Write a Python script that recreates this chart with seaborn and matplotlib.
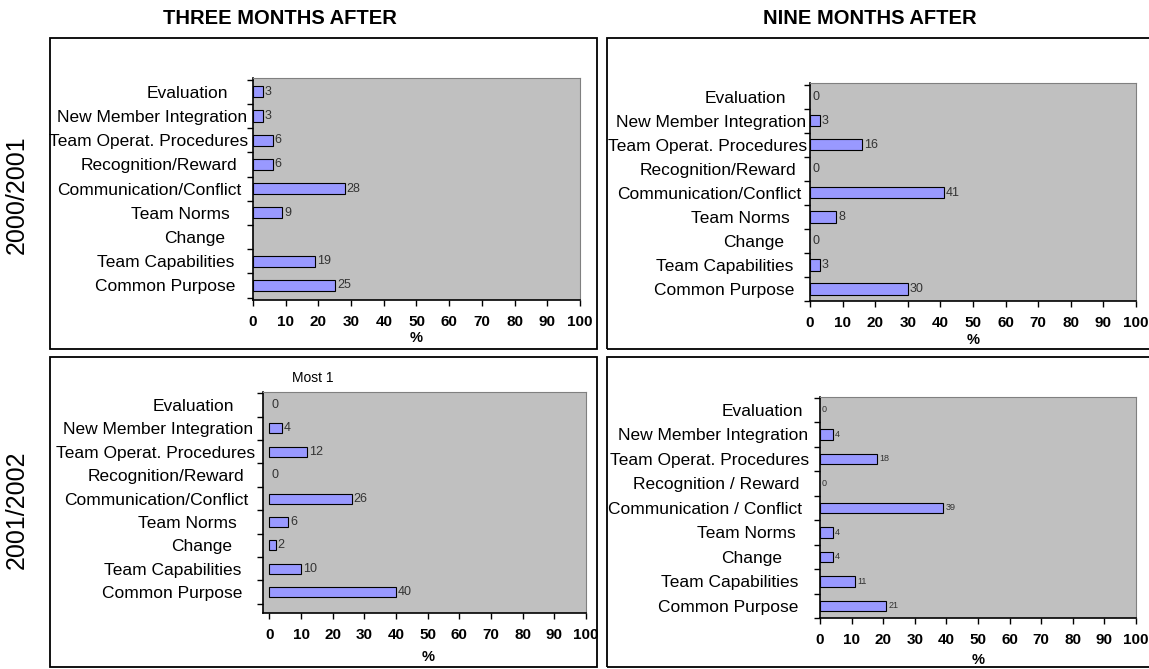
import numpy as np
import pandas as pd
import matplotlib

matplotlib.use("Agg")

import matplotlib.pyplot as plt
import seaborn as sns
from matplotlib.patches import Rectangle
from matplotlib.transforms import ScaledTranslation

# categories, top to bottom as drawn
categories = [
    "Evaluation", "New Member Integration", "Team Operat. Procedures",
    "Recognition/Reward", "Communication/Conflict", "Team Norms",
    "Change", "Team Capabilities", "Common Purpose",
]
categories_spaced = [
    "Evaluation", "New Member Integration", "Team Operat. Procedures",
    "Recognition / Reward", "Communication / Conflict", "Team Norms",
    "Change", "Team Capabilities", "Common Purpose",
]

# % of responses
three_months_2000 = [3, 3, 6, 6, 28, 9, np.nan, 19, 25]
nine_months_2000 = [0, 3, 16, 0, 41, 8, 0, 3, 30]
three_months_2001 = [0, 4, 12, 0, 26, 6, 2, 10, 40]
nine_months_2001 = [0, 4, 18, 0, 39, 4, 4, 11, 21]

W, H = 1149, 669
BAR = "#9999FF"
GREY = "#C0C0C0"


def frac(left, top, right, bottom):
    return [left / W, 1 - bottom / H, (right - left) / W, (bottom - top) / H]


def draw_panel(fig, cats, values, box, area, ylim, xlim, bar_h, gaps, val_size, xlab_off):
    # outer frame of the chart
    fig.add_artist(Rectangle((box[0] / W, 1 - box[3] / H), (box[2] - box[0]) / W,
                             (box[3] - box[1]) / H, transform=fig.transFigure,
                             fill=False, ec="black", lw=1.3))
    ax = fig.add_axes(frac(*area))
    df = pd.DataFrame({"item": cats, "pct": values})
    sns.barplot(data=df, x="pct", y="item", order=cats, orient="h", color=BAR,
                saturation=1, edgecolor="black", linewidth=0.8, width=bar_h,
                errorbar=None, ax=ax)
    ax.set_facecolor(GREY)
    ax.grid(False)
    for side in ["top", "right"]:
        ax.spines[side].set_color("#808080")
        ax.spines[side].set_linewidth(0.8)
    for side in ["left", "bottom"]:
        ax.spines[side].set_color("black")
        ax.spines[side].set_linewidth(1.2)

    cont = ax.containers[0]
    for b in cont:
        if b.get_width() == 0:
            b.set_linewidth(0)
    labels = ["" if np.isnan(b.get_width()) else f"{b.get_width():g}" for b in cont]
    ax.bar_label(cont, labels=labels, padding=1.5, fontsize=val_size, color="#333333")

    ax.set_xlim(xlim)
    ax.set_xticks(range(0, 101, 10))
    ax.tick_params(axis="x", direction="out", length=4, width=1, pad=7,
                   labelsize=11, color="black", labelcolor="black", bottom=True)
    for lab in ax.get_xticklabels():
        lab.set_fontweight("bold")
    ax.set_xlabel("%", fontsize=10.5, fontweight="bold", color="black")
    ax.xaxis.set_label_coords((50 - xlim[0]) / (xlim[1] - xlim[0]),
                              -xlab_off / (area[3] - area[1]))
    ax.xaxis.label.set_va("center")

    ax.set_ylim(ylim)
    ax.set_yticks(range(len(cats)))
    ax.set_yticklabels(cats, fontsize=12.5, color="black")
    ax.set_ylabel("")
    ax.tick_params(axis="y", which="major", length=0, pad=0, left=False)
    ax.set_yticks(np.arange(-0.5, len(cats)), minor=True)
    ax.tick_params(axis="y", which="minor", length=4, width=1, direction="out",
                   color="black", left=True)
    for lab, g in zip(ax.get_yticklabels(), gaps):
        lab.set_transform(lab.get_transform() + ScaledTranslation(-g / 100, 0, fig.dpi_scale_trans))
    return ax


sns.set_theme(style="white")
plt.rcParams["font.family"] = ["Liberation Sans", "DejaVu Sans"]
plt.rcParams["text.color"] = "black"

fig = plt.figure(figsize=(W / 100, H / 100), dpi=100)

draw_panel(fig, categories, three_months_2000, (50, 38, 597, 349), (253, 78, 580, 300),
           (8.6, -0.57), (0, 100), 0.46,
           [25, 6, 4.6, 16, 11.5, 23, 27.6, 18.4, 17.3], 9, 38)
draw_panel(fig, categories, nine_months_2000, (607, 38, 1155, 349), (810, 83, 1136, 301),
           (8.37, -0.57), (0, 100), 0.47,
           [23.6, 4.2, 2.5, 14, 8.8, 20, 25.4, 16.5, 15.5], 9, 39)
draw_panel(fig, categories, three_months_2001, (50, 357, 597, 667), (263, 392, 586, 613),
           (8.9, -0.56), (-2, 100), 0.43,
           [29, 9.7, 7.7, 18.5, 14.7, 26, 31, 21.6, 20.5], 9, 44)
draw_panel(fig, categories_spaced, nine_months_2001, (607, 357, 1155, 667), (820, 397, 1136, 618),
           (8.45, -0.53), (0, 100), 0.43,
           [17.3, 12, 11, 21, 18, 24.6, 38, 21.8, 21.8], 6.5, 42)

fig.text(280 / W, 1 - 18 / H, "THREE MONTHS AFTER", ha="center", va="center",
         fontsize=14.5, fontweight="bold")
fig.text(870 / W, 1 - 18 / H, "NINE MONTHS AFTER", ha="center", va="center",
         fontsize=14.5, fontweight="bold")
fig.text(17 / W, 1 - 195 / H, "2000/2001", rotation=90, ha="center", va="center", fontsize=18)
fig.text(17 / W, 1 - 510 / H, "2001/2002", rotation=90, ha="center", va="center", fontsize=18)
fig.text(313 / W, 1 - 378 / H, "Most 1", ha="center", va="center", fontsize=10)

fig.savefig("out.png", dpi=100)
plt.close(fig)
